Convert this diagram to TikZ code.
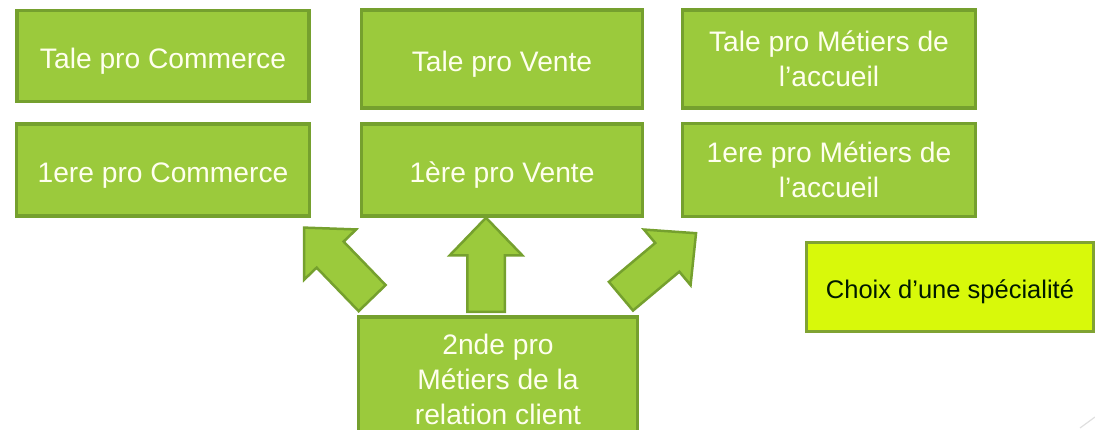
\documentclass[tikz,border=0pt]{standalone}
\usepackage{fontspec}
\setmainfont{Liberation Sans}
\usetikzlibrary{shapes.arrows}
\definecolor{boxFill}{RGB}{155,202,60}
\definecolor{boxLine}{RGB}{117,160,46}
\definecolor{boxText}{RGB}{255,255,238}
\definecolor{choixFill}{RGB}{216,249,10}
\definecolor{choixLine}{RGB}{128,163,50}

\begin{document}
\begin{tikzpicture}[x = 1pt, y = -1pt]
	\tikzstyle{boxStyle} = [rectangle, draw = boxLine, line width = 3.5pt, fill = boxFill, text = boxText, inner sep = 0pt, align = center, font = \fontsize{28.2}{35}\selectfont]
	\tikzstyle{oneLine} = [text height = 24pt, text depth = 0pt]
	\tikzstyle{choixStyle} = [rectangle, draw = choixLine, line width = 3.5pt, fill = choixFill, text = black!90!green, inner sep = 0pt, align = center, font = \fontsize{25.5}{30}\selectfont, text height = 22pt, text depth = 0pt]
	\tikzstyle{arrowStyle} = [single arrow, draw = boxLine, line width = 2.5pt, fill = boxFill, minimum width = 0pt, inner sep = 17.5pt, single arrow head extend = 17.5pt, single arrow tip angle = 88, anchor = tail]
	\useasboundingbox (0, 0) rectangle (1095, 429);
	\node[boxStyle, oneLine, minimum width = 292pt, minimum height = 91pt] (comT) at (163, 56) {Tale pro Commerce};
	\node[boxStyle, oneLine, minimum width = 281pt, minimum height = 98pt] (venT) at (502, 59) {Tale pro Vente};
	\node[boxStyle, minimum width = 293pt, minimum height = 98pt] (accT) at (829, 59) {Tale pro Métiers de\\l’accueil};
	\node[boxStyle, oneLine, minimum width = 293pt, minimum height = 92pt] (comP) at (163, 170) {1ere pro Commerce};
	\node[boxStyle, oneLine, minimum width = 281pt, minimum height = 92pt] (venP) at (502, 170) {1ère pro Vente};
	\node[boxStyle, minimum width = 293pt, minimum height = 93pt] (accP) at (829, 170) {1ere pro Métiers de\\l’accueil};
	\node[choixStyle, minimum width = 287pt, minimum height = 89pt] (choix) at (950, 287) {Choix d’une spécialité};
	\node[boxStyle, minimum width = 279pt, minimum height = 124pt] (sec) at (498, 379) {2nde pro\\Métiers de la\\relation client};
	\coordinate (tailL) at (373, 299);
	\coordinate (tailM) at (486, 313);
	\coordinate (tailR) at (620, 297);
	\node[arrowStyle, minimum height = 98pt, rotate = 134] (arrL) at (tailL) {};
	\node[arrowStyle, minimum height = 94pt, rotate = 90] (arrM) at (tailM) {};
	\node[arrowStyle, minimum height = 98pt, rotate = 40] (arrR) at (tailR) {};
	\draw[gray!25, line width = 1.2pt] (1080, 428) -- (1095, 417);
\end{tikzpicture}
\end{document}
